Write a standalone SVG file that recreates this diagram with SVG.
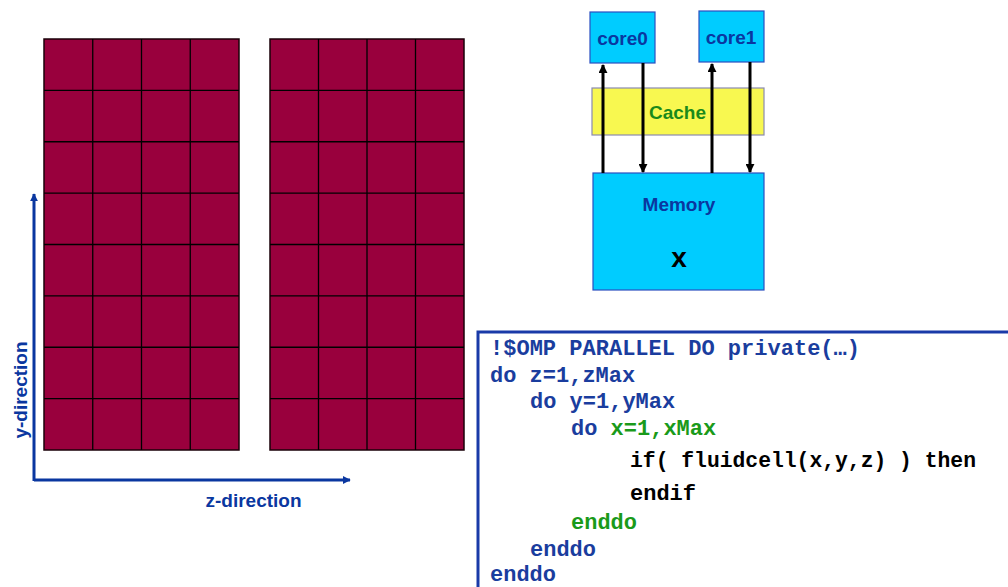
<svg xmlns="http://www.w3.org/2000/svg" width="1008" height="587" viewBox="0 0 1008 587">
  <style>
    .cells { fill: #99003d; stroke: #1a0008; stroke-width: 1.5; }
    .grid { stroke: #000; stroke-width: 1.3; }
    .axis { stroke: #0a37a0; stroke-width: 3; fill: none; }
    .axlabel { font-family: "Liberation Sans", Arial, sans-serif; font-weight: bold; font-size: 19px; fill: #0a37a0; text-anchor: middle; }
    .box { fill: #00ccff; stroke: #2a4fc0; stroke-width: 1.2; }
    .cache { fill: #f8f850; stroke: #8a8ab0; stroke-width: 1.2; }
    .lbl { font-family: "Liberation Sans", Arial, sans-serif; font-weight: bold; font-size: 19px; fill: #0a37a0; text-anchor: middle; }
    .wire { stroke: #000; stroke-width: 3; fill: none; }
    .code { font-family: "Liberation Mono", "Courier New", monospace; font-weight: bold; font-size: 22px; fill: #1a3d9e; }
    .g { fill: #1a9a1a; }
    .k { fill: #000; }
  </style>
  <defs>
    <marker id="ah" viewBox="0 0 10 10" refX="9" refY="5" markerWidth="3" markerHeight="3" orient="auto" markerUnits="strokeWidth">
      <path d="M0,0 L10,5 L0,10 z" fill="#000"/>
    </marker>
    <marker id="axh" viewBox="0 0 10 10" refX="9" refY="5" markerWidth="3.2" markerHeight="2.6" orient="auto" markerUnits="strokeWidth">
      <path d="M0,0 L10,5 L0,10 z" fill="#0a37a0"/>
    </marker>
  </defs>

  <!-- left block of lattice cells: 4 x 8 -->
  <g id="grid-left">
    <rect class="cells" x="44" y="39" width="195" height="411"/>
    <path class="grid" d="M92.75,39V450M141.5,39V450M190.25,39V450
      M44,90.4H239M44,141.75H239M44,193.1H239M44,244.5H239M44,295.9H239M44,347.25H239M44,398.6H239"/>
  </g>

  <!-- right block of lattice cells: 4 x 8 -->
  <g id="grid-right">
    <rect class="cells" x="270" y="39" width="194" height="411"/>
    <path class="grid" d="M318.5,39V450M367,39V450M415.5,39V450
      M270,90.4H464M270,141.75H464M270,193.1H464M270,244.5H464M270,295.9H464M270,347.25H464M270,398.6H464"/>
  </g>

  <!-- direction axes -->
  <g id="axes">
    <path class="axis" d="M34,481V194" marker-end="url(#axh)"/>
    <path class="axis" d="M34,480H350" marker-end="url(#axh)"/>
    <text class="axlabel" transform="translate(27,390) rotate(-90)">y-direction</text>
    <text class="axlabel" x="253.5" y="507">z-direction</text>
  </g>

  <!-- memory hierarchy -->
  <g id="core0">
    <rect class="box" x="590" y="12" width="65" height="51"/>
    <text class="lbl" x="622.5" y="45">core0</text>
  </g>
  <g id="core1">
    <rect class="box" x="699" y="11" width="65" height="51"/>
    <text class="lbl" x="731" y="44">core1</text>
  </g>
  <g id="cache">
    <rect class="cache" x="592" y="88" width="172" height="47"/>
    <text class="lbl" x="677.5" y="119" style="fill:#1a8a1a">Cache</text>
  </g>
  <g id="memory">
    <rect class="box" x="593" y="173" width="171" height="117"/>
    <text class="lbl" x="679" y="211">Memory</text>
    <text x="679" y="267" text-anchor="middle" font-family="Liberation Sans, Arial, sans-serif" font-weight="bold" font-size="28" fill="#000">x</text>
  </g>

  <g id="connectors">
    <path class="wire" d="M603,173V65" marker-end="url(#ah)"/>
    <path class="wire" d="M643,63V172" marker-end="url(#ah)"/>
    <path class="wire" d="M712,173V64" marker-end="url(#ah)"/>
    <path class="wire" d="M750,62V172" marker-end="url(#ah)"/>
  </g>

  <!-- loop nest listing -->
  <g id="code">
    <rect x="478" y="332" width="540" height="270" fill="#fff" stroke="#1a3aa8" stroke-width="3"/>
    <text class="code" x="490" y="355" textLength="370" lengthAdjust="spacingAndGlyphs">!$OMP PARALLEL DO private(…)</text>
    <text class="code" x="490" y="382">do z=1,zMax</text>
    <text class="code" x="530" y="408">do y=1,yMax</text>
    <text class="code" x="571" y="435">do <tspan class="g">x=1,xMax</tspan></text>
    <text class="code k" x="630" y="467" textLength="346" lengthAdjust="spacingAndGlyphs">if( fluidcell(x,y,z) ) then</text>
    <text class="code k" x="630" y="500">endif</text>
    <text class="code g" x="571" y="529">enddo</text>
    <text class="code" x="530" y="556">enddo</text>
    <text class="code" x="490" y="581">enddo</text>
  </g>
</svg>
